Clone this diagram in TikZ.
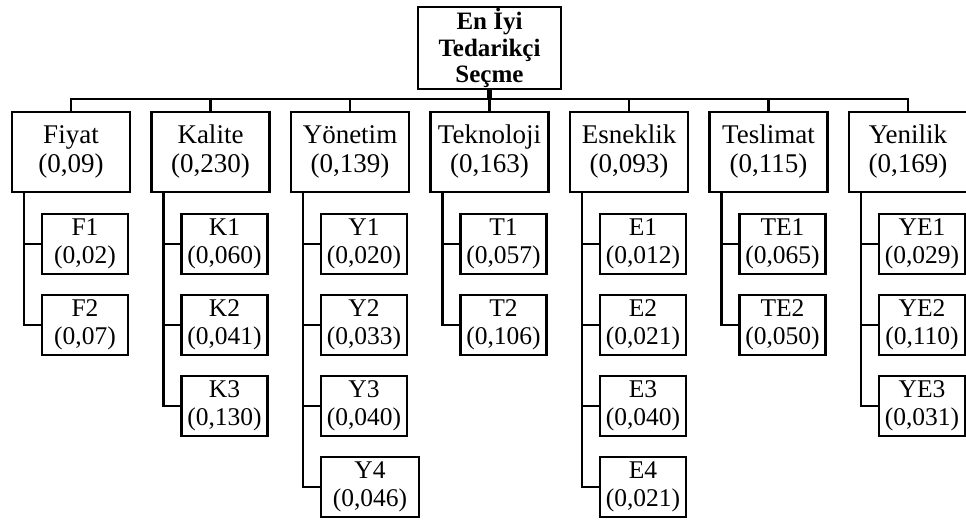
\documentclass[tikz,border=0pt]{standalone}
\usepackage{fontspec}
\setmainfont{Liberation Serif}
\begin{document}
\begin{tikzpicture}[x=1pt, y=-1pt,
  box/.style={draw, line width=2.8pt, inner sep=0pt, outer sep=0pt, align=center},
  goal/.style={box, minimum width=143pt, minimum height=82pt,
    font=\bfseries\fontsize{25}{26.5}\selectfont},
  cat/.style={box, minimum width=118pt, minimum height=80pt,
    font=\fontsize{27}{29}\selectfont},
  sub/.style={box, minimum width=86pt, minimum height=60pt,
    font=\fontsize{25.5}{27.5}\selectfont},
  link/.style={line width=2.8pt, line join=miter}]
\useasboundingbox (0,0) rectangle (966,521);

% goal
\node[goal] (root) at (489.5,48) {En İyi\\Tedarikçi\\Seçme};
\coordinate (bus) at (489.5,99);

% criteria
\node[cat] (fiyat)     at (71,152)    {Fiyat\\(0,09)};
\node[cat] (kalite)    at (210.5,152) {Kalite\\(0,230)};
\node[cat] (yonetim)   at (350,152)   {Yönetim\\(0,139)};
\node[cat] (teknoloji) at (489.5,152) {Teknoloji\\(0,163)};
\node[cat] (esneklik)  at (629,152)   {Esneklik\\(0,093)};
\node[cat] (teslimat)  at (768.5,152) {Teslimat\\(0,115)};
\node[cat] (yenilik)   at (908,152)   {Yenilik\\(0,169)};

% sub-criteria
\node[sub] (f1) at (85,244) {F1\\(0,02)};
\node[sub] (f2) at (85,325) {F2\\(0,07)};

\node[sub] (k1) at (224.5,244) {K1\\(0,060)};
\node[sub] (k2) at (224.5,325) {K2\\(0,041)};
\node[sub] (k3) at (224.5,406) {K3\\(0,130)};

\node[sub] (y1) at (364,244) {Y1\\(0,020)};
\node[sub] (y2) at (364,325) {Y2\\(0,033)};
\node[sub] (y3) at (364,406) {Y3\\(0,040)};
\node[sub, minimum width=98pt] (y4) at (370,487) {Y4\\(0,046)};

\node[sub] (t1) at (503.5,244) {T1\\(0,057)};
\node[sub] (t2) at (503.5,325) {T2\\(0,106)};

\node[sub] (e1) at (643,244) {E1\\(0,012)};
\node[sub] (e2) at (643,325) {E2\\(0,021)};
\node[sub] (e3) at (643,406) {E3\\(0,040)};
\node[sub] (e4) at (643,487) {E4\\(0,021)};

\node[sub] (te1) at (782.5,244) {TE1\\(0,065)};
\node[sub] (te2) at (782.5,325) {TE2\\(0,050)};

\node[sub] (ye1) at (922,244) {YE1\\(0,029)};
\node[sub] (ye2) at (922,325) {YE2\\(0,110)};
\node[sub] (ye3) at (922,406) {YE3\\(0,031)};

% goal to criteria
\draw[line width=4.5pt] (root.south) -- (bus);
\draw[link] (fiyat.north) |- (bus) -| (yenilik.north);
\foreach \c in {kalite,yonetim,teknoloji,esneklik,teslimat}
  \draw[link] (\c.north) -- (\c.north |- bus);

% criteria to sub-criteria
\foreach \c/\s in {fiyat/f1, fiyat/f2,
                   kalite/k1, kalite/k2, kalite/k3,
                   yonetim/y1, yonetim/y2, yonetim/y3, yonetim/y4,
                   teknoloji/t1, teknoloji/t2,
                   esneklik/e1, esneklik/e2, esneklik/e3, esneklik/e4,
                   teslimat/te1, teslimat/te2,
                   yenilik/ye1, yenilik/ye2, yenilik/ye3}
  \draw[link] ([xshift=12pt]\c.south west) |- (\s.west);
\end{tikzpicture}
\end{document}
